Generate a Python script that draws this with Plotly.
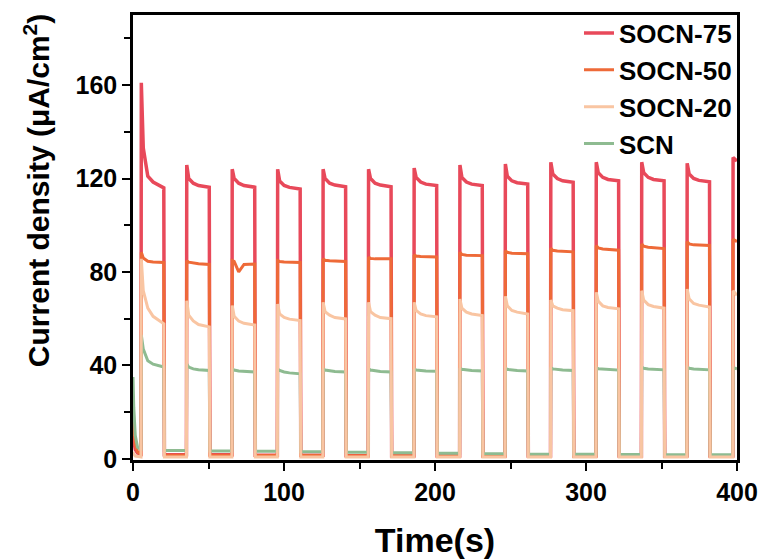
import plotly.graph_objects as go

# ---- light on/off times (s) ----
on_times = [5.3, 35.4, 65.5, 95.6, 125.7, 155.8, 186.0, 216.3, 246.4, 276.5, 306.6, 336.7, 366.8]
off_times = [20.4, 50.5, 80.6, 110.7, 140.8, 170.9, 201.1, 231.3, 261.4, 291.5, 321.6, 351.7, 381.8]
last_on = 397.2
end_time = 400.0
# offsets of the read keypoints inside a light-on period (s after switch-on)
key_offsets = [0.2, 1.5, 4.5, 8.0]

# ---- initial dark segment (0 .. first switch-on) ----
init_t = [0.0, 0.5, 1.5, 3.0, 5.0]

# ---- SOCN-75 ----
r_init = [10, 7, 4, 2.5, 2]
r_spike = [161, 125.8, 124, 124, 124, 124, 124.5, 125.8, 126.2, 127, 127, 127, 126.5]
r_knee = [133, 120, 120, 119, 120, 120, 120.5, 120.5, 121, 122, 122.5, 122.5, 122]
r_mid = [121, 118, 118, 117, 118, 118, 118.5, 118.5, 119, 120, 120.5, 120.5, 120]
r_late = [118.5, 117, 117, 116.2, 117.2, 117.2, 117.6, 117.6, 118.2, 119, 119.6, 119.6, 119.2]
r_end = [116, 116.3, 116.3, 115.5, 116.5, 116.5, 117, 117, 117.6, 118.4, 119, 119, 118.6]
r_dark = [1.8, 1.8, 1.5, 1.5, 1.3, 1.2, 1.2, 1.2, 1.2, 1.2, 1.2, 1.2, 1.2]
r_last = [129, 127.5]

# ---- SOCN-50 ----
o_init = [27, 15, 6, 3, 2]
o_spike = [88.4, 84.8, 84.8, 84.8, 85.6, 86.3, 87.3, 88.4, 89.1, 90.1, 91.3, 92, 93]
o_knee = [86, 84.2, 84.5, 84.5, 85, 85.8, 86.8, 87.5, 88.4, 89.3, 90.3, 91, 92]
o_mid = [84.6, 83.8, 80, 84.3, 84.8, 85.6, 86.6, 87.2, 88, 89, 89.8, 90.6, 91.6]
o_late = [84.3, 83.5, 83.2, 84.2, 84.6, 85.6, 86.5, 87.1, 87.9, 88.8, 89.6, 90.3, 91.4]
o_end = [84.1, 83.2, 83.4, 84.1, 84.5, 85.6, 86.4, 87, 87.8, 88.6, 89.3, 90, 91.3]
o_dark = [1.5, 1.5, 1.4, 1.4, 1.3, 1.3, 1.2, 1.2, 1.2, 1.2, 1.2, 1.2, 1.2]
o_last = [94, 93]

# ---- SOCN-20 ----
p_init = [3, 2, 1.2, 1, 0.8]
p_spike = [85.6, 67.7, 65.6, 66.3, 67, 67, 67, 68.4, 69.6, 68, 71.3, 72, 72.7]
p_knee = [72, 61.5, 61, 62, 63, 63, 63.5, 64.5, 65.5, 65.5, 67.5, 68, 68.5]
p_mid = [64.5, 59, 59, 60.5, 61.5, 61.5, 62, 62.8, 63.5, 64.5, 65.5, 66, 66.5]
p_late = [61, 57.5, 58, 59.8, 60.5, 60.5, 61.3, 62, 62.8, 63.8, 64.8, 65.2, 65.8]
p_end = [57.8, 56.5, 57.3, 59.2, 59.9, 60, 60.8, 61.3, 62, 63.4, 64.2, 64.5, 65]
p_dark = [0.8, 0.8, 0.8, 0.8, 0.8, 0.8, 0.8, 0.8, 0.8, 0.8, 0.8, 0.8, 0.8]
p_last = [72, 70]

# ---- SCN ----
g_init = [35, 22, 10, 5, 4]
g_spike = [53, 40.6, 38.5, 38.5, 38.5, 38.5, 38.5, 38.8, 38.8, 39, 39, 39.2, 39.2]
g_knee = [47, 39.3, 38, 37.8, 38, 38, 38, 38.3, 38.3, 38.5, 38.6, 38.8, 38.8]
g_mid = [42, 38.5, 37.6, 37.2, 37.6, 37.6, 37.8, 38, 38, 38.2, 38.4, 38.5, 38.5]
g_late = [40.5, 38.1, 37.4, 36.8, 37.4, 37.4, 37.6, 37.8, 37.8, 38, 38.2, 38.3, 38.3]
g_end = [39.3, 37.8, 37.2, 36.4, 37.2, 37.2, 37.5, 37.6, 37.6, 37.8, 38, 38.1, 38.1]
g_dark = [3.6, 3.4, 3.2, 3.0, 2.8, 2.6, 2.4, 2.2, 2.0, 2.0, 1.9, 1.8, 1.8]
g_last = [39, 38.5]


def build(init, spike, knee, mid, late, end, dark, last):
    xs = list(init_t)
    ys = list(init)
    prev_dark = init[-1]
    for k in range(len(on_times)):
        t0 = on_times[k]
        xs.append(t0)
        ys.append(prev_dark)
        for off, v in zip(key_offsets, [spike[k], knee[k], mid[k], late[k]]):
            xs.append(t0 + off)
            ys.append(v)
        xs.append(off_times[k])
        ys.append(end[k])
        xs.append(off_times[k] + 0.4)
        ys.append(dark[k])
        prev_dark = dark[k]
    xs += [last_on, last_on + 0.2, end_time]
    ys += [prev_dark, last[0], last[1]]
    return xs, ys


series = [
    # name, colour, data, legend rank, width
    ("SOCN-75", "#E8495A", (r_init, r_spike, r_knee, r_mid, r_late, r_end, r_dark, r_last), 1, 3.5),
    ("SOCN-50", "#EE6A38", (o_init, o_spike, o_knee, o_mid, o_late, o_end, o_dark, o_last), 2, 3),
    ("SCN", "#8EBB91", (g_init, g_spike, g_knee, g_mid, g_late, g_end, g_dark, g_last), 4, 3),
    ("SOCN-20", "#F9C5A2", (p_init, p_spike, p_knee, p_mid, p_late, p_end, p_dark, p_last), 3, 3),
]

fig = go.Figure()
for name, color, data, rank, w in series:
    xs, ys = build(*data)
    fig.add_trace(go.Scatter(
        x=xs, y=ys, mode="lines", name=name, legendgroup=name, legendrank=rank,
        line=dict(color=color, width=w), hoverinfo="skip",
    ))

FONT = "Liberation Sans, Arial, sans-serif"

fig.update_layout(
    width=764, height=560,
    margin=dict(l=133, r=27, t=15, b=100, autoexpand=False),
    paper_bgcolor="white", plot_bgcolor="white",
    font=dict(family=FONT, size=22, color="black", weight="bold"),
    showlegend=True,
    legend=dict(
        x=1.0, y=1.012, xanchor="right", yanchor="top",
        bgcolor="rgba(0,0,0,0)", borderwidth=0,
        font=dict(family=FONT, size=26, color="black", weight="bold"),
        traceorder="grouped", tracegroupgap=0, itemwidth=30,
    ),
    xaxis=dict(
        range=[0, 400], tickvals=[0, 100, 200, 300, 400], automargin=False,
        ticks="outside", ticklen=8, tickwidth=2, tickcolor="black",
        minor=dict(tickvals=[50, 150, 250, 350], ticks="outside", ticklen=6, tickwidth=2, tickcolor="black"),
        showline=True, linewidth=2.5, linecolor="black", mirror=True,
        showgrid=False, zeroline=False,
        tickfont=dict(family=FONT, size=25, color="black", weight="bold"),
        title=dict(text="Time(s)", font=dict(family=FONT, size=34, color="black", weight="bold"), standoff=24),
    ),
    yaxis=dict(
        range=[-0.5, 190], tickvals=[0, 40, 80, 120, 160], automargin=False,
        ticks="outside", ticklen=8, tickwidth=2, tickcolor="black",
        minor=dict(tickvals=[20, 60, 100, 140, 180], ticks="outside", ticklen=6, tickwidth=2, tickcolor="black"),
        showline=True, linewidth=2.5, linecolor="black", mirror=True,
        showgrid=False, zeroline=False,
        tickfont=dict(family=FONT, size=25, color="black", weight="bold"),
    ),
    annotations=[dict(
        text="Current density (μA/cm<sup>2</sup>)", textangle=-90,
        xref="paper", yref="paper", x=-0.16, y=0.605, xanchor="center", yanchor="middle",
        showarrow=False, font=dict(family=FONT, size=30, color="black", weight="bold"),
    )],
)

fig.write_html(
    "out.html",
    config={"displayModeBar": False},
    post_script="document.body.style.margin='0';document.body.style.overflow='hidden';",
)
